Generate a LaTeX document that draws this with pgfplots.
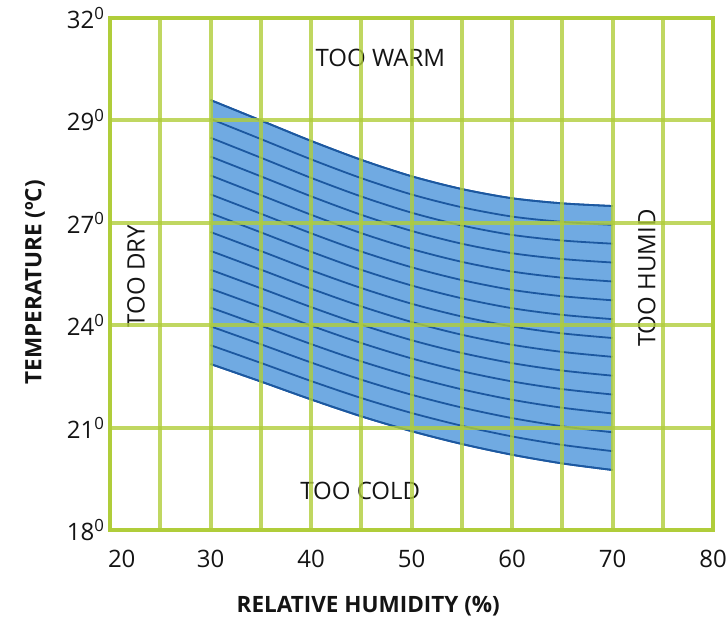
\documentclass[border=0pt]{standalone}
\usepackage{pgfplots}
\pgfplotsset{compat=1.18}
\usepackage{pgfplotstable}
\usepgfplotslibrary{fillbetween}
\usepackage{fontspec}
\setmainfont{Open Sans}
\definecolor{gc}{RGB}{176,205,58}
\definecolor{bandfill}{RGB}{112,170,226}
\definecolor{bandline}{RGB}{28,88,160}
\definecolor{txt}{RGB}{20,20,20}

\pgfplotstableread{
x k0 k1 k2 k3 k4 k5 k6 k7 k8 k9 k10 k11 k12 k13 k14
30 4.199 4.015 3.831 3.647 3.463 3.278 3.094 2.910 2.726 2.542 2.357 2.173 1.989 1.805 1.621
35 4.000 3.818 3.636 3.454 3.271 3.089 2.907 2.725 2.543 2.361 2.179 1.996 1.814 1.632 1.450
40 3.800 3.620 3.439 3.259 3.079 2.898 2.718 2.537 2.357 2.177 1.996 1.816 1.636 1.455 1.275
45 3.615 3.436 3.257 3.078 2.899 2.720 2.541 2.363 2.184 2.005 1.826 1.647 1.468 1.289 1.110
50 3.455 3.277 3.099 2.921 2.744 2.566 2.388 2.210 2.032 1.854 1.676 1.499 1.321 1.143 0.965
55 3.330 3.152 2.974 2.796 2.619 2.441 2.263 2.085 1.907 1.729 1.551 1.374 1.196 1.018 0.840
60 3.240 3.061 2.882 2.703 2.524 2.345 2.166 1.988 1.809 1.630 1.451 1.272 1.093 0.914 0.735
65 3.190 3.009 2.827 2.646 2.464 2.283 2.101 1.920 1.739 1.557 1.376 1.194 1.013 0.831 0.650
70 3.164 2.980 2.796 2.612 2.427 2.243 2.059 1.875 1.691 1.507 1.323 1.138 0.954 0.770 0.586
}\band

\begin{document}
\begin{tikzpicture}
\begin{axis}[
  width=603bp, height=512bp, scale only axis,
  xmin=20, xmax=80, ymin=0, ymax=5,
  xtick={20,30,40,50,60,70,80},
  xticklabels={\makebox[0pt][l]{\hspace{-2bp}20},30,40,50,60,70,80},
  minor xtick={25,35,45,55,65,75},
  ytick={0,1,2,3,4,5},
  yticklabels={18\textsuperscript{0},21\textsuperscript{0},24\textsuperscript{0},27\textsuperscript{0},29\textsuperscript{0},32\textsuperscript{0}},
  grid=both,
  major grid style={gc, line width=4bp, opacity=0.8},
  minor grid style={gc, line width=4bp, opacity=0.8},
  axis line style={gc, line width=4bp},
  major tick length=0pt, minor tick length=0pt,
  tick label style={font=\fontsize{24bp}{28bp}\selectfont, text=txt},
  xticklabel style={yshift=-17bp},
  yticklabel style={xshift=-2bp},
  axis on top,
  clip=false,
]
\coordinate (sw) at (rel axis cs:0,0);
\coordinate (warm) at (axis cs:46.9,4.61);
\coordinate (cold) at (axis cs:44.9,0.38);
\coordinate (dry) at (axis cs:22.6,2.48);
\coordinate (humid) at (axis cs:73.4,2.46);
\coordinate (xl) at (axis cs:45.7,-0.742);
\coordinate (yl) at (axis cs:12.54,2.42);
\addplot[name path=top, bandline, line width=1.8bp, smooth] table[x=x,y=k0]{\band};
\addplot[name path=bot, bandline, line width=1.8bp, smooth] table[x=x,y=k14]{\band};
\addplot[bandfill, draw=none] fill between[of=top and bot];
\pgfplotsinvokeforeach{0,...,14}{
  \addplot[bandline, line width=1.8bp, smooth] table[x=x,y=k#1]{\band};
}
\end{axis}
\node[font=\fontsize{24bp}{28bp}\selectfont, text=txt] at (warm) {TOO WARM};
\node[font=\fontsize{24bp}{28bp}\selectfont, text=txt] at (cold) {TOO COLD};
\node[font=\fontsize{24bp}{28bp}\selectfont, text=txt, rotate=90] at (dry) {TOO DRY};
\node[font=\fontsize{24bp}{28bp}\selectfont, text=txt, rotate=90] at (humid) {TOO HUMID};
\node[font=\bfseries\fontsize{22.5bp}{26bp}\selectfont, text=txt] at (xl) {RELATIVE HUMIDITY (\%)};
\node[font=\bfseries\fontsize{22.5bp}{26bp}\selectfont, text=txt, rotate=90] at (yl) {TEMPERATURE (ºC)};
\pgfresetboundingbox
\path[use as bounding box] ([xshift=-110bp,yshift=-93bp]sw) rectangle ++(726bp,623bp);
\end{tikzpicture}
\end{document}
